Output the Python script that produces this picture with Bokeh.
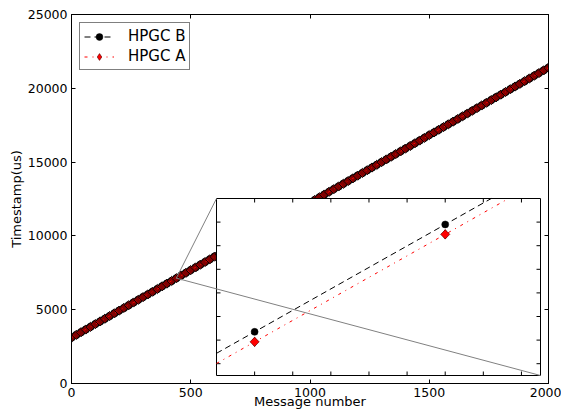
import numpy as np
from bokeh.plotting import figure
from bokeh.models import (Range1d, LinearAxis, FixedTicker, NumeralTickFormatter,
                          Legend, LegendItem)
from bokeh.embed import file_html
from bokeh.resources import INLINE

FONT = "DejaVu Sans"

# ---------------- data ----------------
message_number = list(range(0, 2001, 20))
hpgc_b = [3110, 3293, 3476, 3659, 3842, 4025, 4207, 4390, 4573, 4756,
          4939, 5122, 5305, 5488, 5671, 5854, 6036, 6219, 6402, 6585,
          6768, 6951, 7134, 7317, 7500, 7683, 7865, 8048, 8231, 8414,
          8597, 8780, 8963, 9146, 9329, 9512, 9694, 9877, 10060, 10243,
          10426, 10609, 10792, 10975, 11158, 11341, 11523, 11706, 11889, 12072,
          12255, 12438, 12621, 12804, 12987, 13170, 13352, 13535, 13718, 13901,
          14084, 14267, 14450, 14633, 14816, 14999, 15181, 15364, 15547, 15730,
          15913, 16096, 16279, 16462, 16645, 16828, 17010, 17193, 17376, 17559,
          17742, 17925, 18108, 18291, 18474, 18657, 18839, 19022, 19205, 19388,
          19571, 19754, 19937, 20120, 20303, 20486, 20668, 20851, 21034, 21217,
          21400]
hpgc_a = [3109, 3292, 3475, 3658, 3841, 4024, 4206, 4389, 4572, 4755,
          4938, 5121, 5304, 5487, 5670, 5853, 6035, 6218, 6401, 6584,
          6767, 6950, 7133, 7316, 7499, 7682, 7864, 8047, 8230, 8413,
          8596, 8779, 8962, 9145, 9328, 9511, 9693, 9876, 10059, 10242,
          10425, 10608, 10791, 10974, 11157, 11340, 11522, 11705, 11888, 12071,
          12254, 12437, 12620, 12803, 12986, 13169, 13351, 13534, 13717, 13900,
          14083, 14266, 14449, 14632, 14815, 14998, 15180, 15363, 15546, 15729,
          15912, 16095, 16278, 16461, 16644, 16827, 17009, 17192, 17375, 17558,
          17741, 17924, 18107, 18290, 18473, 18656, 18838, 19021, 19204, 19387,
          19570, 19753, 19936, 20119, 20302, 20485, 20667, 20850, 21033, 21216,
          21399]
inset_message = [439, 440, 441, 442]
inset_hpgc_b = [7123.6, 7132.7, 7141.8, 7150.9]
inset_hpgc_a = [7122.7, 7131.85, 7140.96, 7150.1]

x_ticks = [0, 500, 1000, 1500, 2000]
y_ticks = [0, 5000, 10000, 15000, 20000, 25000]
inset_x_limits = (439.8, 441.5)
inset_y_limits = (7129.0, 7144.0)
inset_x_ticks = [440.0, 440.2, 440.4, 440.6, 440.8, 441.0, 441.2, 441.4]
inset_y_ticks = [7130, 7132, 7134, 7136, 7138, 7140, 7142]

# ---------------- geometry (pixels; the page has no body margin) ----------------
PAGE = 0
W, H = 561, 412
ML, MT, MR, MB = 71, 14, 13, 29
FW, FH = W - ML - MR, H - MT - MB
F_LEFT, F_TOP = PAGE + ML, PAGE + MT
F_BOTTOM = F_TOP + FH
IL, IT, IW, IH = 216, 198, 324, 177      # inset frame on the page
TICK = 4


def page_to_main(px, py):
    return ((px - F_LEFT) / FW * 2000.0, (F_BOTTOM - py) / FH * 25000.0)


def clip_polyline(xs, ys, box):
    """Liang-Barsky clipping of a polyline to box=(x0, x1, y0, y1)."""
    bx0, bx1, by0, by1 = box
    out_x, out_y = [], []
    for i in range(len(xs) - 1):
        xa, ya, xb, yb = xs[i], ys[i], xs[i + 1], ys[i + 1]
        dx, dy = xb - xa, yb - ya
        t0, t1 = 0.0, 1.0
        ok = True
        for pp, qq in ((-dx, xa - bx0), (dx, bx1 - xa), (-dy, ya - by0), (dy, by1 - ya)):
            if pp == 0:
                if qq < 0:
                    ok = False
                    break
            else:
                r = qq / pp
                if pp < 0:
                    t0 = max(t0, r)
                else:
                    t1 = min(t1, r)
        if not ok or t0 > t1:
            continue
        sx, sy = xa + t0 * dx, ya + t0 * dy
        ex, ey = xa + t1 * dx, ya + t1 * dy
        if not out_x or (abs(out_x[-1] - sx) > 1e-12 or abs(out_y[-1] - sy) > 1e-12):
            out_x.append(sx)
            out_y.append(sy)
        out_x.append(ex)
        out_y.append(ey)
    return out_x, out_y


def style_axis(ax, ticks, show_labels):
    ax.ticker = FixedTicker(ticks=ticks)
    ax.major_tick_in = TICK
    ax.major_tick_out = 0
    ax.minor_tick_line_color = None
    ax.axis_line_color = "black"
    ax.major_tick_line_color = "black"
    if show_labels:
        ax.major_label_text_font = FONT
        ax.major_label_text_font_size = "12.5px"
        ax.major_label_text_color = "black"
        ax.major_label_standoff = 4
        ax.formatter = NumeralTickFormatter(format="0")
        ax.axis_label_text_font = FONT
        ax.axis_label_text_font_size = "13px"
        ax.axis_label_text_font_style = "normal"
        ax.axis_label_text_color = "black"
    else:
        ax.major_label_text_font_size = "1px"
        ax.major_label_text_alpha = 0
        ax.major_label_standoff = 0


# ---------------- main plot ----------------
p = figure(width=W, height=H,
           x_range=Range1d(0, 2000), y_range=Range1d(0, 25000),
           toolbar_location=None, output_backend="svg",
           min_border_left=ML, min_border_top=MT,
           min_border_right=MR, min_border_bottom=MB)
p.grid.visible = False
p.outline_line_color = "black"
p.background_fill_color = "white"
p.border_fill_color = "white"
style_axis(p.xaxis[0], x_ticks, True)
style_axis(p.yaxis[0], y_ticks, True)
p.xaxis[0].axis_label = "Message number"
p.xaxis[0].axis_label_standoff = -6
p.yaxis[0].axis_label = "Timestamp(us)"
p.yaxis[0].axis_label_standoff = 1
top_ax = LinearAxis()
style_axis(top_ax, x_ticks, False)
p.add_layout(top_ax, "above")
right_ax = LinearAxis()
style_axis(right_ax, y_ticks, False)
p.add_layout(right_ax, "right")

p.line(message_number, hpgc_b, line_color="black", line_dash="6 4", line_width=1)
p.scatter(message_number, hpgc_b, marker="circle", size=7.5,
          fill_color="black", line_color="black", line_width=0.5)
p.line(message_number, hpgc_a, line_color="red", line_dash="3 5 1 5", line_width=1)
p.scatter(message_number, hpgc_a, marker="square", angle=np.pi / 4, size=6.5,
          fill_color="red", fill_alpha=0.5, line_color="black", line_width=1)

# zoom marker
zx0, zx1 = inset_x_limits
zy0, zy1 = inset_y_limits
p.quad(left=[zx0], right=[zx1], bottom=[zy0], top=[zy1],
       fill_color=None, line_color="#808080", line_width=1)

# ---------------- inset (sub-coordinates inside the main frame) ----------------
tx0, ty_top = page_to_main(IL, IT)
tx1, ty_bot = page_to_main(IL + IW, IT + IH)
sub = p.subplot(x_source=Range1d(zx0, zx1), y_source=Range1d(zy0, zy1),
                x_target=Range1d(tx0, tx1), y_target=Range1d(ty_bot, ty_top))

sub.quad(left=[zx0], right=[zx1], bottom=[zy0], top=[zy1],
         fill_color="white", line_color="black", line_width=1)

dxp = (zx1 - zx0) / IW
dyp = (zy1 - zy0) / IH
sx0, sy0, sx1, sy1 = [], [], [], []
for t in inset_x_ticks:
    sx0 += [t, t]
    sx1 += [t, t]
    sy0 += [zy0, zy1]
    sy1 += [zy0 + TICK * dyp, zy1 - TICK * dyp]
for t in inset_y_ticks:
    sy0 += [t, t]
    sy1 += [t, t]
    sx0 += [zx0, zx1]
    sx1 += [zx0 + TICK * dxp, zx1 - TICK * dxp]
sub.segment(x0=sx0, y0=sy0, x1=sx1, y1=sy1, line_color="black", line_width=1)

# connectors (drawn over the inset, as in the original)
p.line([zx0, tx0], [zy1, ty_top], line_color="#808080", line_width=1)
p.line([zx1, tx1], [zy0, ty_bot], line_color="#808080", line_width=1)

box = (zx0, zx1, zy0, zy1)
bxs, bys = clip_polyline(inset_message, inset_hpgc_b, box)
axs, ays = clip_polyline(inset_message, inset_hpgc_a, box)
inside = [i for i, m in enumerate(inset_message) if zx0 <= m <= zx1]
in_x = [inset_message[i] for i in inside]
in_b = [inset_hpgc_b[i] for i in inside]
in_a = [inset_hpgc_a[i] for i in inside]

lb = sub.line(bxs, bys, line_color="black", line_dash="6 4", line_width=1)
sb = sub.scatter(in_x, in_b, marker="circle", size=7, fill_color="black",
                 line_color="black", line_width=0.5)
la = sub.line(axs, ays, line_color="red", line_dash="3 5 1 5", line_width=1)
# diamond glyph used by the legend (legend markers are not rotated); it sits
# underneath the rotated squares, which cover it completely
sa_leg = sub.scatter(in_x, in_a, marker="diamond", size=9.5,
                     fill_color="red", line_color="#550000", line_width=0.6)
sub.scatter(in_x, in_a, marker="square", angle=np.pi / 4, size=6.5,
            fill_color="red", line_color="#550000", line_width=0.6)

legend = Legend(items=[LegendItem(label="HPGC B", renderers=[lb, sb]),
                       LegendItem(label="HPGC A", renderers=[la, sa_leg])],
                location="top_left", margin=8, padding=4, spacing=2,
                glyph_width=30, glyph_height=17, label_height=17, label_standoff=14,
                label_text_font=FONT, label_text_font_size="15px",
                label_text_color="black",
                border_line_color="black", border_line_width=1,
                background_fill_color="white", background_fill_alpha=1)
p.add_layout(legend)

open("out.html", "w").write(file_html(p, INLINE))
